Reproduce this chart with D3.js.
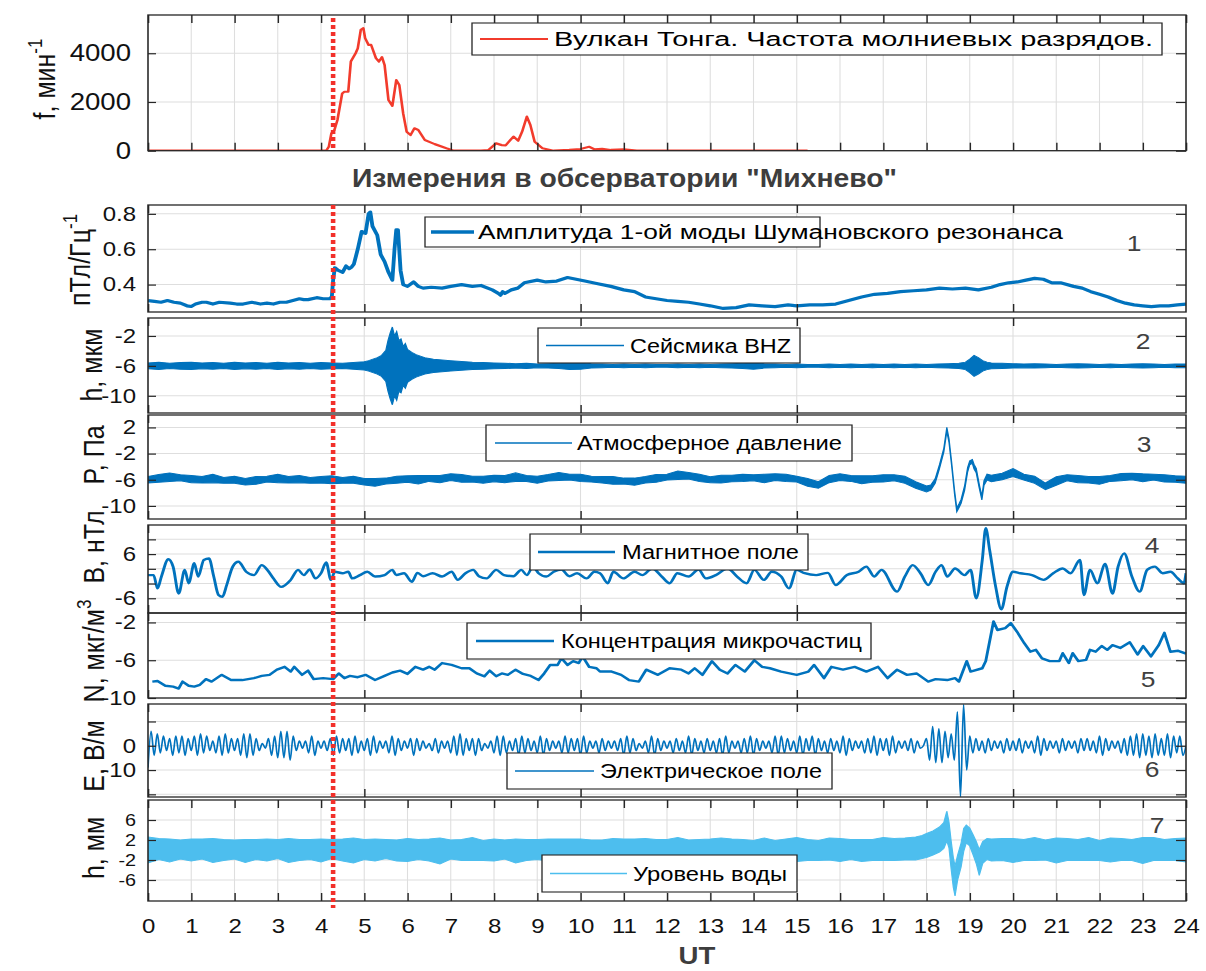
<!DOCTYPE html>
<html lang="ru">
<head>
<meta charset="utf-8">
<title>Тонга / Михнево</title>
<script src="https://cdn.jsdelivr.net/npm/d3@7"></script>
<style>
  body { margin: 0; background: #fff; }
  svg { display: block; }
  text { font-family: "Liberation Sans", Arial, sans-serif; }
</style>
</head>
<body>
<svg id="chart"></svg>
<script>
// ---------------- data ----------------

// hours, UT
const HOURS = [0, 1, 2, 3, 4, 5, 6, 7, 8, 9, 10, 11, 12, 13, 14, 15, 16, 17, 18, 19, 20, 21, 22, 23, 24];
const FIVE_HOURS = [0, 5, 10, 15, 20];
const ERUPTION_HOUR = 4.28;

// Tonga lightning rate, 1/min
const freqT = [0, 4.12, 4.18, 4.24, 4.31, 4.38, 4.49, 4.54, 4.63, 4.69, 4.8, 4.85, 4.92, 4.98, 5.02, 5.1,
    5.16, 5.27, 5.34, 5.41, 5.47, 5.56, 5.65, 5.74, 5.81, 5.9, 5.98, 6.07, 6.16, 6.25, 6.4, 6.63, 6.9, 7.07,
    7.7, 7.87, 8.05, 8.18, 8.27, 8.45, 8.56, 8.65, 8.76, 8.84, 8.94, 9.12, 9.38, 9.74, 10.0, 10.2, 10.32,
    10.5, 10.7, 11.0, 11.3, 15.25];
const freqV = [0, 0, 160, 710, 850, 1260, 2350, 2420, 2420, 3660, 4000, 4200, 4960, 5030, 4620, 4340,
    4340, 3800, 3660, 3840, 3520, 2080, 1840, 2900, 2700, 1530, 780, 640, 920, 850, 440, 270, 100, 0,
    0, 30, 300, 230, 220, 580, 410, 780, 1400, 1060, 370, 100, 0, 30, 70, 160, 60,
    80, 30, 60, 0, 0];

// 1 - Schumann resonance, first mode amplitude
const schumT = [0, 0.15, 0.3, 0.45, 0.6, 0.75, 0.9, 1.0, 1.1, 1.25,
    1.35, 1.5, 1.65, 1.9, 2.05, 2.2, 2.4, 2.6, 2.75, 2.9,
    3.05, 3.2, 3.35, 3.5, 3.6, 3.7, 3.9, 4.05, 4.2, 4.25,
    4.28, 4.32, 4.4, 4.5, 4.58, 4.65, 4.71, 4.76, 4.85, 4.94,
    5.03, 5.1, 5.14, 5.19, 5.3, 5.38, 5.47, 5.56, 5.65, 5.7,
    5.74, 5.78, 5.84, 5.9, 6.0, 6.14, 6.25, 6.36, 6.55, 6.8,
    7.0, 7.25, 7.5, 7.7, 7.96, 8.1, 8.15, 8.2, 8.25, 8.4,
    8.55, 8.7, 9.0, 9.2, 9.45, 9.7, 9.9, 10.1, 10.4, 10.7,
    11.0, 11.25, 11.5, 11.75, 12.0, 12.25, 12.5, 12.75, 13.0, 13.3,
    13.6, 13.9, 14.2, 14.5, 14.8, 15.0, 15.3, 15.6, 15.9, 16.2,
    16.5, 16.8, 17.1, 17.4, 17.7, 18.0, 18.3, 18.6, 18.9, 19.2,
    19.5, 19.7, 19.9, 20.1, 20.3, 20.5, 20.7, 20.9, 21.1, 21.4,
    21.6, 21.8, 22.0, 22.2, 22.4, 22.6, 22.8, 23.0, 23.2, 23.4,
    23.6, 23.8, 24.0];
const schumV = [0.31, 0.305, 0.30, 0.31, 0.30, 0.295, 0.28, 0.276, 0.29, 0.30,
    0.30, 0.29, 0.30, 0.295, 0.29, 0.29, 0.30, 0.29, 0.295, 0.29,
    0.30, 0.30, 0.31, 0.32, 0.315, 0.315, 0.326, 0.32, 0.32, 0.33,
    0.425, 0.495, 0.48, 0.47, 0.505, 0.49, 0.50, 0.516, 0.60, 0.70,
    0.69, 0.80, 0.81, 0.73, 0.68, 0.57, 0.53, 0.47, 0.425, 0.60,
    0.71, 0.71, 0.48, 0.40, 0.39, 0.415, 0.39, 0.38, 0.385, 0.38,
    0.39, 0.40, 0.39, 0.395, 0.37, 0.35, 0.34, 0.36, 0.35, 0.37,
    0.38, 0.41, 0.425, 0.415, 0.42, 0.44, 0.43, 0.42, 0.405, 0.39,
    0.37, 0.36, 0.33, 0.32, 0.31, 0.305, 0.30, 0.29, 0.28, 0.265,
    0.27, 0.285, 0.28, 0.275, 0.285, 0.28, 0.285, 0.285, 0.29, 0.31,
    0.33, 0.345, 0.35, 0.36, 0.365, 0.37, 0.38, 0.375, 0.38, 0.37,
    0.385, 0.40, 0.41, 0.415, 0.425, 0.435, 0.43, 0.41, 0.41, 0.39,
    0.38, 0.36, 0.345, 0.33, 0.31, 0.295, 0.285, 0.28, 0.275, 0.28,
    0.28, 0.285, 0.29];

// 2 - seismic BHZ: noise band around a flat level, half-width per time
const seisLevel = -6;
const seisT = [0, 0.25, 0.5, 0.75, 1, 1.25, 1.5, 1.75, 2, 2.25, 2.5, 2.75, 3, 3.25, 3.5, 3.75, 4, 4.25, 4.5, 4.75, 5,
    5.1, 5.2, 5.3, 5.4, 5.5,
    5.55, 5.6, 5.65, 5.7, 5.75, 5.8, 5.85, 5.9, 5.95, 6,
    6.1, 6.2, 6.3, 6.4, 6.6, 6.8, 7,
    7.25, 7.5, 7.75, 8, 8.25, 8.5, 8.75, 9, 9.25, 9.5, 9.75, 10,
    10.25, 10.5, 10.75, 11, 11.25, 11.5, 11.75, 12, 12.25, 12.5, 12.75, 13,
    13.25, 13.5, 13.75, 14, 14.25, 14.5, 14.75, 15, 15.25, 15.5, 15.75, 16,
    16.25, 16.5, 16.75, 17, 17.25, 17.5, 17.75, 18, 18.25, 18.5, 18.75,
    18.9, 19, 19.1, 19.2, 19.3, 19.4, 19.5, 19.75,
    20, 20.25, 20.5, 20.75, 21, 21.25, 21.5, 21.75, 22, 22.25, 22.5, 22.75, 23, 23.25, 23.5, 23.75, 24];
const seisSpread = [0.4, 0.5, 0.35, 0.45, 0.5, 0.4, 0.45, 0.35, 0.5, 0.4, 0.45, 0.35, 0.5, 0.4, 0.45, 0.35, 0.45, 0.4, 0.35, 0.45, 0.55,
    0.7, 0.9, 1.1, 1.4, 2.1,
    3.4, 4.4, 5.2, 4.0, 4.6, 3.4, 3.6, 2.6, 3.0, 2.2,
    1.8, 1.5, 1.3, 1.1, 0.9, 0.8, 0.7,
    0.6, 0.5, 0.45, 0.4, 0.35, 0.3, 0.35, 0.25, 0.3, 0.35, 0.5, 0.45,
    0.3, 0.25, 0.2, 0.25, 0.2, 0.25, 0.2, 0.2, 0.25, 0.2, 0.25, 0.2,
    0.25, 0.3, 0.35, 0.45, 0.3, 0.25, 0.2, 0.25, 0.2, 0.2, 0.25, 0.2,
    0.25, 0.2, 0.25, 0.2, 0.25, 0.2, 0.25, 0.2, 0.25, 0.3, 0.35,
    0.5, 0.9, 1.4, 1.1, 0.7, 0.5, 0.4, 0.35,
    0.3, 0.25, 0.3, 0.25, 0.2, 0.25, 0.3, 0.25, 0.2, 0.25, 0.2, 0.25, 0.3, 0.25, 0.2, 0.25, 0.25];

// 3 - atmospheric pressure: band centre and half-width
const presT = [0, 0.25, 0.5, 0.75, 1, 1.25, 1.5, 1.75,
    2, 2.25, 2.5, 2.75, 3, 3.25, 3.5, 3.75,
    4, 4.25, 4.5, 4.75, 5, 5.25, 5.5, 5.75,
    6, 6.25, 6.5, 6.75, 7, 7.25, 7.5, 7.75,
    8, 8.25, 8.5, 8.75, 9, 9.25, 9.5, 9.75,
    10, 10.25, 10.5, 10.75, 11, 11.25, 11.5, 11.75,
    12, 12.25, 12.5, 12.75, 13, 13.25, 13.5, 13.75,
    14, 14.25, 14.5, 14.75, 15, 15.25, 15.5, 15.75,
    16, 16.25, 16.5, 16.75, 17, 17.25, 17.5,
    17.75, 18.0, 18.1, 18.2, 18.3, 18.4, 18.47, 18.52, 18.58, 18.65, 18.7, 18.75,
    18.8, 18.88, 18.95, 19.0, 19.06, 19.1, 19.15, 19.22, 19.28, 19.33, 19.4, 19.5,
    19.75, 20, 20.25, 20.5, 20.75, 21, 21.25, 21.5, 21.75, 22, 22.25, 22.5, 22.75, 23, 23.25, 23.5, 23.75, 24];
const presMid = [-6.0, -5.8, -5.6, -5.7, -5.9, -6.0, -5.8, -6.1,
    -6.0, -6.3, -6.1, -5.9, -5.8, -6.0, -5.9, -6.1,
    -6.0, -6.0, -6.1, -6.0, -6.3, -6.4, -6.2, -6.0,
    -5.9, -6.0, -5.8, -5.9, -5.6, -5.8, -5.9, -6.0,
    -5.8, -5.9, -5.6, -5.8, -6.0, -5.7, -5.5, -5.6,
    -5.7, -5.9, -6.0, -6.1, -6.2, -6.3, -6.0, -5.8,
    -5.6, -5.3, -5.4, -5.7, -6.0, -5.9, -5.8, -5.7,
    -5.7, -5.8, -5.6, -5.7, -5.9, -6.4, -6.8, -5.9,
    -5.6, -5.8, -6.0, -5.9, -5.8, -5.7, -6.0,
    -6.8, -7.4, -7.2, -6.2, -4.0, -1.5, 1.7, 0.0, -3.5, -8.0, -10.6, -10.0,
    -9.3, -7.3, -4.5, -3.4, -3.2, -4.0, -4.6, -7.0, -8.8, -6.5, -5.6, -5.8,
    -5.5, -4.9, -5.6, -6.0, -7.0, -6.2, -5.7, -5.9, -6.0, -6.1, -5.8, -5.6, -5.5, -5.7, -5.6, -5.8, -5.9, -6.0];
const presSpread = [0.5, 0.6, 0.65, 0.45, 0.55, 0.5, 0.65, 0.45,
    0.55, 0.5, 0.6, 0.45, 0.65, 0.5, 0.55, 0.45,
    0.5, 0.6, 0.45, 0.55, 0.5, 0.6, 0.45, 0.55,
    0.5, 0.65, 0.45, 0.55, 0.5, 0.6, 0.45, 0.55,
    0.5, 0.55, 0.65, 0.45, 0.55, 0.5, 0.6, 0.45,
    0.55, 0.45, 0.5, 0.6, 0.45, 0.55, 0.5, 0.6,
    0.45, 0.65, 0.5, 0.55, 0.45, 0.6, 0.5, 0.55,
    0.45, 0.65, 0.5, 0.55, 0.45, 0.6, 0.5, 0.55,
    0.5, 0.45, 0.6, 0.5, 0.55, 0.45, 0.55,
    0.5, 0.45, 0.4, 0.35, 0.3, 0.3, 0.3, 0.3, 0.3, 0.3, 0.3, 0.3,
    0.3, 0.35, 0.35, 0.3, 0.3, 0.35, 0.35, 0.3, 0.3, 0.35, 0.45, 0.5,
    0.5, 0.6, 0.45, 0.55, 0.5, 0.65, 0.45, 0.55, 0.5, 0.6, 0.45, 0.55, 0.5, 0.6, 0.45, 0.55, 0.5, 0.55];

// 4 - magnetic field, nT
const magT = [0, 0.13, 0.22, 0.31, 0.47, 0.58, 0.71, 0.85, 0.94, 1.07,
    1.16, 1.29, 1.41, 1.52, 1.63, 1.72, 1.82, 1.96, 2.09, 2.27,
    2.45, 2.63, 2.76, 2.9, 3.08, 3.3, 3.47, 3.6, 3.74, 3.87,
    4.0, 4.12, 4.23, 4.32, 4.5, 4.63, 4.72, 4.9, 5.07, 5.25,
    5.47, 5.65, 5.74, 5.92, 6.1, 6.23, 6.36, 6.58, 6.8, 7.02,
    7.16, 7.34, 7.52, 7.65, 7.83, 8.05, 8.23, 8.45, 8.63, 8.76,
    8.9, 9.03, 9.21, 9.38, 9.56, 9.74, 9.92, 10.14, 10.32, 10.45,
    10.63, 10.76, 10.99, 11.25, 11.43, 11.66, 11.88, 12.06, 12.24, 12.5,
    12.73, 12.9, 13.13, 13.4, 13.62, 13.84, 14.02, 14.24, 14.42, 14.64,
    14.82, 15.0, 15.18, 15.45, 15.72, 15.9, 16.16, 16.43, 16.61, 16.79,
    16.96, 17.32, 17.5, 17.68, 17.86, 18.04, 18.21, 18.35, 18.48, 18.66,
    18.88, 19.02, 19.15, 19.29, 19.37, 19.46, 19.6, 19.73, 19.86, 20.0,
    20.17, 20.44, 20.71, 20.93, 21.15, 21.33, 21.55, 21.64, 21.78, 21.95,
    22.13, 22.3, 22.43, 22.57, 22.75, 22.93, 23.1, 23.28, 23.46, 23.64,
    23.81, 23.95, 24.0];
const magV = [0.3, 0.3, -3.3, -0.1, 4.6, 2.6, -4.7, 1.7, -1.9, 3.5,
    -0.1, 4.4, 4.8, -0.1, -5.1, -5.6, -2.4, 2.6, 3.9, 1.2,
    0.3, 3.0, 1.7, -0.6, -2.9, -1.0, 1.7, 0.3, 1.8, -0.6,
    0.8, 3.7, -1.0, 1.2, 0.8, 1.2, -0.6, 0.3, 1.2, -0.1,
    0.3, 1.7, 0.3, 0.8, -1.5, 0.9, 0, 0.8, -0.1, 1.2,
    -1.0, 0.8, 1.7, 0, -0.6, 1.7, 0.3, 0, 1.7, 0.3,
    2.6, 0.8, -0.1, 1.2, 1.8, 0, 0.8, -0.6, 1.2, 0.8,
    -1.9, 1.2, -0.6, 1.2, 0.3, 2.1, -0.1, -1.9, 0.8, -0.1,
    1.8, -0.6, 0.3, 2.1, -0.1, -1.9, 1.7, -1.0, 1.2, -0.1,
    -3.3, 1.7, 0.8, 0.3, 0.9, -2.4, 0.3, 1.2, 2.6, -0.1,
    1.7, -4.2, -0.1, 3.0, 0.8, -2.4, 1.2, 3.0, -0.1, 2.1,
    0.3, 1.7, -6.0, 4.4, 13.0, 7.1, -2.9, -9.0, -2.9, 1.2,
    0.8, 0.3, -1.0, 0.8, 2.1, 0.8, 4.4, -5.1, 1.7, -1.9,
    3.3, -4.7, 2.6, 6.2, -0.1, -4.2, 1.7, 2.6, 0.8, 1.2,
    -0.6, -1.9, 0.8];

// 5 - particle concentration
const partT = [0.1, 0.22, 0.4, 0.58, 0.71, 0.8, 0.94, 1.07, 1.2, 1.34,
    1.47, 1.7, 1.92, 2.18, 2.45, 2.63, 2.81, 2.98, 3.16, 3.3,
    3.38, 3.56, 3.7, 3.83, 4.05, 4.28, 4.41, 4.54, 4.67, 4.85,
    5.03, 5.25, 5.47, 5.65, 5.83, 6.0, 6.18, 6.36, 6.5, 6.63,
    6.8, 7.02, 7.25, 7.43, 7.6, 7.78, 7.9, 8.05, 8.18, 8.32,
    8.5, 8.67, 8.85, 9.03, 9.16, 9.3, 9.47, 9.56, 9.7, 9.83,
    9.96, 10.05, 10.2, 10.37, 10.45, 10.72, 10.94, 11.12, 11.35, 11.52,
    11.79, 12.06, 12.33, 12.5, 12.64, 12.82, 13.04, 13.22, 13.4, 13.58,
    13.8, 14.02, 14.2, 14.38, 14.64, 15.0, 15.27, 15.4, 15.63, 15.8,
    16.07, 16.34, 16.61, 16.88, 17.1, 17.32, 17.55, 17.77, 18.04, 18.21,
    18.48, 18.66, 18.75, 18.93, 19.02, 19.29, 19.37, 19.55, 19.64, 19.82,
    19.95, 20.09, 20.26, 20.4, 20.53, 20.67, 20.85, 21.07, 21.15, 21.29,
    21.38, 21.51, 21.69, 21.78, 21.91, 22.05, 22.18, 22.3, 22.48, 22.7,
    22.88, 23.01, 23.19, 23.37, 23.5, 23.64, 23.82, 24.0];
const partV = [-8.26, -8.2, -8.7, -8.8, -9.0, -8.26, -8.7, -8.8, -8.6, -8.0,
    -8.26, -7.55, -8.1, -8.1, -7.9, -7.66, -7.55, -7.0, -6.7, -7.2,
    -6.7, -7.55, -7.1, -8.0, -7.9, -8.0, -7.4, -7.9, -7.66, -7.8,
    -7.55, -8.1, -7.66, -7.3, -7.1, -7.45, -6.7, -7.0, -6.7, -7.0,
    -6.3, -6.5, -6.85, -6.85, -7.4, -7.7, -7.1, -7.7, -7.4, -7.55,
    -7.0, -7.45, -7.66, -8.1, -7.4, -6.5, -6.5, -5.8, -6.5, -6.1,
    -6.3, -5.6, -6.7, -6.85, -7.2, -7.2, -7.55, -8.1, -8.26, -7.0,
    -7.55, -6.85, -7.0, -7.4, -6.85, -7.55, -6.1, -7.0, -7.4, -6.5,
    -7.2, -6.0, -6.7, -6.85, -7.2, -7.55, -7.2, -6.5, -7.9, -6.7,
    -7.0, -6.7, -7.2, -6.7, -7.9, -7.0, -7.55, -7.4, -8.26, -8.0,
    -8.1, -7.9, -8.26, -6.1, -7.2, -6.85, -6.1, -1.9, -2.8, -2.6,
    -2.07, -2.96, -4.2, -5.1, -4.9, -5.8, -6.1, -6.1, -5.26, -6.3,
    -5.26, -6.1, -5.96, -4.9, -5.1, -4.5, -4.9, -4.4, -4.7, -4.1,
    -5.4, -4.5, -5.6, -4.4, -3.1, -5.1, -5.0, -5.3];

// 6 - electric field, successive peaks and troughs, 14 per hour
const eStep = 1 / 14;
const eField = [
    -9, 6, -4, 5, -3, 4, -2, 3, -4, 4, -3, 4, -4, 3,
    -2, 4, -4, 5, -3, 4, -2, 2, -3, 4, -4, 5, -3, 3,
    -2, 3, -4, 5, -5, 5, -4, 3, -2, 1, -1, 3, -4, 4,
    -5, 6, -5, 6, -6, 4, -2, 2, -1, 2, -3, 4, -4, 2,
    -1, 2, -2, 3, -4, 4, -3, 3, -2, 3, -4, 4, -3, 2,
    -2, 3, -4, 4, -3, 2, -1, 2, -3, 4, -4, 3, -2, 2,
    -1, 3, -4, 3, -2, 2, -1, 1, -2, 3, -3, 2, -1, 2,
    -3, 4, -4, 5, -4, 3, -2, 3, -4, 3, -2, 1, -1, 2,
    -3, 4, -4, 4, -3, 2, -2, 3, -4, 4, -3, 3, -2, 2,
    -3, 4, -4, 3, -2, 2, -1, 2, -3, 4, -3, 3, -2, 3,
    -4, 4, -3, 2, -1, 2, -3, 3, -2, 2, -1, 2, -2, 3,
    -4, 4, -3, 3, -2, 1, -1, 2, -3, 4, -4, 3, -2, 2,
    -1, 2, -3, 3, -2, 2, -3, 4, -4, 3, -2, 2, -3, 3,
    -2, 2, -3, 3, -4, 4, -3, 2, -1, 2, -3, 3, -3, 4,
    -4, 3, -2, 2, -1, 2, -3, 4, -4, 4, -3, 3, -2, 2,
    -3, 4, -4, 3, -2, 4, -4, 3, -2, 2, -3, 3, -2, 2,
    -3, 4, -4, 3, -2, 2, -1, 2, -3, 3, -3, 4, -4, 3,
    -2, 3, -4, 4, -3, 2, -1, 2, -2, 3, -3, 2, -1, 0,
    3, -6, 8, -7, 7, -7, 6, -5, 5, -6, 14, -21, 17, -10,
    4, -3, 3, -2, 2, -3, 3, -2, 2, -1, 2, -3, 3, -2,
    2, -2, 3, -3, 2, -1, 2, -3, 4, -4, 3, -2, 2, -1,
    2, -3, 3, -2, 2, -1, 2, -3, 3, -2, 3, -2, 2, -3,
    4, -4, 3, -2, 2, -1, 2, -3, 3, -4, 4, -4, 5, -5,
    5, -4, 4, -5, 5, -4, 3, -4, 5, -5, 4, -3, 4, -4,
    0];

// 7 - water level: band centre and half-width, mm
const waterT = [0, 0.25, 0.5, 0.75, 1, 1.25, 1.5, 1.75,
    2, 2.25, 2.5, 2.75, 3, 3.25, 3.5, 3.75,
    4, 4.25, 4.5, 4.75, 5, 5.25, 5.5, 5.75,
    6, 6.25, 6.5, 6.75, 7, 7.25, 7.5, 7.75,
    8, 8.25, 8.5, 8.75, 9, 9.25, 9.5, 9.75,
    10, 10.25, 10.5, 10.75, 11, 11.25, 11.5, 11.75,
    12, 12.25, 12.5, 12.75, 13, 13.25, 13.5, 13.75,
    14, 14.25, 14.5, 14.75, 15, 15.25, 15.5, 15.75,
    16, 16.25, 16.5, 16.75, 17, 17.25, 17.5, 17.75,
    17.9, 18.0, 18.15, 18.3, 18.4, 18.47, 18.52, 18.57, 18.62, 18.66, 18.72,
    18.8, 18.86, 18.92, 19.0, 19.08, 19.15, 19.22, 19.3, 19.4, 19.5,
    19.75, 20, 20.25, 20.5, 20.75, 21, 21.25, 21.5, 21.75, 22, 22.25, 22.5, 22.75, 23, 23.25, 23.5, 23.75, 24];
const waterMid = [0.0, 0.2, -0.1, 0.1, 0.0, 0.2, -0.1, 0.0,
    0.1, -0.2, 0.1, 0.0, 0.2, -0.1, 0.0, 0.1,
    -0.1, 0.2, 0.0, -0.1, 0.1, 0.0, 0.2, -0.1,
    0.0, 0.1, 0.0, -0.2, 0.1, 0.0, 0.2, -0.1,
    0.0, 0.1, -0.2, 0.0, 0.1, 0.0, -0.1, 0.2,
    0.0, 0.1, -0.1, 0.0, 0.2, 0.0, -0.1, 0.1,
    0.0, 0.2, 0.0, -0.1, 0.1, 0.0, 0.2, -0.1,
    0.0, 0.1, -0.2, 0.0, 0.1, 0.0, -0.1, 0.2,
    0.0, 0.1, -0.1, 0.0, 0.2, 0.1, 0.2, 0.3,
    0.6, 0.9, 1.4, 2.1, 2.9, 4.8, 3.0, -1.0, -4.5, -6.2, -3.5,
    -1.0, 2.0, 3.2, 2.6, 1.0, -0.5, -2.5, -0.5, 0.2, 0.0,
    0.1, -0.1, 0.0, 0.2, 0.0, -0.1, 0.1, 0.0, 0.2, -0.1, 0.0, 0.1, 0.0, -0.1, 0.2, 0.0, 0.1, 0.0];
const waterSpread = [2.6, 2.1, 2.3, 1.9, 2.2, 2.0, 2.4, 2.1,
    1.9, 2.3, 2.0, 2.2, 1.9, 2.4, 2.1, 2.0,
    2.3, 1.9, 2.2, 2.5, 2.0, 2.2, 1.9, 2.1,
    2.3, 2.0, 2.2, 2.6, 1.9, 2.1, 2.3, 2.0,
    2.2, 1.9, 2.4, 2.1, 2.0, 2.2, 2.3, 2.0,
    2.2, 1.9, 2.1, 2.3, 2.0, 2.2, 2.4, 2.0,
    2.1, 2.3, 2.0, 2.2, 2.1, 2.4, 2.0, 2.2,
    1.9, 2.3, 2.1, 2.2, 2.4, 2.1, 2.0, 2.2,
    2.3, 2.0, 2.2, 2.1, 2.3, 2.2, 2.2, 2.3,
    2.3, 2.4, 2.4, 2.5, 2.6, 3.0, 2.6, 2.8, 3.0, 3.0, 2.5,
    2.4, 2.3, 1.8, 1.8, 2.0, 2.2, 2.6, 2.2, 2.1, 2.2,
    2.2, 2.4, 2.1, 2.3, 2.0, 2.5, 2.2, 2.1, 2.3, 2.0, 2.4, 2.2, 2.1, 2.6, 2.3, 2.1, 2.2, 2.4];

// y ticks of each panel, and which of them carry a label
const freqTicks = [0, 2000, 4000];
const schumTicks = [0.4, 0.6, 0.8];
const seisTicks = [-10, -6, -2];
const presTicks = [-10, -6, -2, 2];
const magTicks = [-6, -2, 2, 6, 10];
const magLabels = [-6, 6];
const partTicks = [-10, -6, -2];
const eTicks = [-20, -10, 0, 10];
const eLabels = [-10, 0];
const waterTicks = [-6, -2, 2, 6];

const legendNames = [
    'Вулкан Тонга. Частота молниевых разрядов.',
    'Амплитуда 1-ой моды Шумановского резонанса',
    'Сейсмика BHZ',
    'Атмосферное давление',
    'Магнитное поле',
    'Концентрация микрочастиц',
    'Электрическое поле',
    'Уровень воды'
];
const axisTitles = [
    ['f, мин', '-1'], ['пТл/Гц', '-1'], ['h, мкм', ''], ['P, Па', ''],
    ['B, нТл', ''], ['N, мкг/м', '3'], ['E, В/м', ''], ['h, мм', '']
];
const chartTitle = 'Измерения в обсерватории "Михнево"';
const xTitle = 'UT';

// ---------------- drawing ----------------

// the source picture is stretched sideways, so draw in a narrower box and let the viewBox widen it
const SX = 1.2;
const sx = v => v / SX;

const INK = '#262626';
const GRID = '#dedede';
const BLUE = '#0072bd';
const SKY = '#4dbeee';
const RED = '#f23b2c';

let svg = d3.select('#chart')
    .attr('width', 1206)
    .attr('height', 971)
    .attr('viewBox', `0 0 ${1206 / SX} 971`)
    .attr('preserveAspectRatio', 'none');

let x = d3.scaleLinear().domain([0, 24]).range([sx(148), sx(1186)]);

function styleAxis(sel, size) {
    sel.select('.domain').remove();
    sel.selectAll('line').attr('stroke', INK).attr('stroke-width', 1.2);
    sel.selectAll('text').attr('fill', '#111').attr('font-size', size || 20);
}

function drawPanel(p) {
    let y = d3.scaleLinear().domain(p.domain).range([p.bottom, p.top]);
    let g = svg.append('g');
    let shown = p.shown || p.yTicks;

    g.append('clipPath').attr('id', 'clip-' + p.name)
        .append('rect')
        .attr('x', x(0)).attr('y', p.top)
        .attr('width', x(24) - x(0)).attr('height', p.bottom - p.top);

    g.append('g').selectAll('line')
        .data(p.xGrid)
        .enter()
        .append('line')
        .attr('x1', d => x(d)).attr('x2', d => x(d))
        .attr('y1', p.top).attr('y2', p.bottom)
        .attr('stroke', GRID).attr('stroke-width', 0.9);
    g.append('g').selectAll('line')
        .data(p.yTicks)
        .enter()
        .append('line')
        .attr('x1', x(0)).attr('x2', x(24))
        .attr('y1', d => y(d)).attr('y2', d => y(d))
        .attr('stroke', GRID).attr('stroke-width', 1);

    let plot = g.append('g').attr('clip-path', `url(#clip-${p.name})`);

    // ticks on all four sides, pointing inwards
    g.append('g')
        .attr('transform', `translate(${x(0)},0)`)
        .call(d3.axisLeft(y).tickValues(p.yTicks).tickSize(-sx(8)).tickPadding(sx(p.pad || 12))
            .tickFormat(d => shown.includes(d) ? String(d) : ''))
        .call(styleAxis, p.font);
    g.append('g')
        .attr('transform', `translate(${x(24)},0)`)
        .call(d3.axisRight(y).tickValues(p.yTicks).tickSize(-sx(10)).tickFormat(() => ''))
        .call(styleAxis);
    g.append('g')
        .attr('transform', `translate(0,${p.top})`)
        .call(d3.axisTop(x).tickValues(p.xTicks).tickSize(-8).tickFormat(() => ''))
        .call(styleAxis);
    g.append('g')
        .attr('transform', `translate(0,${p.bottom})`)
        .call(d3.axisBottom(x).tickValues(p.xTicks).tickSize(-8).tickPadding(18)
            .tickFormat(d => p.xLabels ? String(d) : ''))
        .call(styleAxis, 20);

    g.append('rect')
        .attr('x', x(0)).attr('y', p.top)
        .attr('width', x(24) - x(0)).attr('height', p.bottom - p.top)
        .attr('fill', 'none').attr('stroke', INK).attr('stroke-width', 1.3);

    return { y, plot };
}

function drawLine(panel, T, V, color, width, curve) {
    panel.plot.append('path')
        .datum(d3.zip(T, V))
        .attr('fill', 'none')
        .attr('stroke', color)
        .attr('stroke-width', width)
        .attr('stroke-linejoin', 'round')
        .attr('d', d3.line()
            .curve(curve || d3.curveLinear)
            .x(d => x(d[0]))
            .y(d => panel.y(d[1])));
}

function drawBand(panel, T, mid, spread, color) {
    panel.plot.append('path')
        .datum(d3.zip(T, mid, spread))
        .attr('fill', color)
        .attr('stroke', color)
        .attr('stroke-width', 1)
        .attr('d', d3.area()
            .x(d => x(d[0]))
            .y0(d => panel.y(d[1] - d[2]))
            .y1(d => panel.y(d[1] + d[2])));
}

const HOURLY_GRID = HOURS.slice(1, 24);
const FIVE_GRID = FIVE_HOURS.slice(1);

let pTop = drawPanel({ name: 'f', top: 15, bottom: 150.7, domain: [0, 5570], yTicks: freqTicks,
    xTicks: HOURS, xGrid: HOURLY_GRID, font: 23, pad: 17 });
let p1 = drawPanel({ name: 'p1', top: 205, bottom: 312, domain: [0.245, 0.85], yTicks: schumTicks,
    xTicks: FIVE_HOURS, xGrid: FIVE_GRID });
let p2 = drawPanel({ name: 'p2', top: 318, bottom: 413, domain: [-12.3, 0.4], yTicks: seisTicks,
    xTicks: FIVE_HOURS, xGrid: FIVE_GRID });
let p3 = drawPanel({ name: 'p3', top: 415, bottom: 519, domain: [-12, 3.9], yTicks: presTicks,
    xTicks: FIVE_HOURS, xGrid: FIVE_GRID });
let p4 = drawPanel({ name: 'p4', top: 525, bottom: 613, domain: [-10, 13.9], yTicks: magTicks, shown: magLabels,
    xTicks: FIVE_HOURS, xGrid: FIVE_GRID });
let p5 = drawPanel({ name: 'p5', top: 613, bottom: 698, domain: [-10, -1], yTicks: partTicks,
    xTicks: FIVE_HOURS, xGrid: FIVE_GRID });
let p6 = drawPanel({ name: 'p6', top: 704, bottom: 797, domain: [-21.1, 17.2], yTicks: eTicks, shown: eLabels,
    xTicks: FIVE_HOURS, xGrid: FIVE_GRID });
let p7 = drawPanel({ name: 'p7', top: 800, bottom: 901, domain: [-10.2, 10], yTicks: waterTicks,
    xTicks: HOURS, xGrid: HOURLY_GRID, xLabels: true, font: 16.5 });

drawLine(pTop, freqT, freqV, RED, 2.2);
drawLine(p1, schumT, schumV, BLUE, 3.2);
drawBand(p2, seisT, seisT.map(() => seisLevel), seisSpread, BLUE);
drawBand(p3, presT, presMid, presSpread, BLUE);
drawLine(p4, magT, magV, BLUE, 2.4, d3.curveMonotoneX);
drawLine(p5, partT, partV, BLUE, 2.4);
drawLine(p6, eField.map((v, i) => i * eStep), eField, BLUE, 1.4, d3.curveMonotoneX);
drawBand(p7, waterT, waterMid, waterSpread, SKY);

// eruption marker
[[18, 150.7], [205, 908]].forEach(([y0, y1]) => {
    svg.append('line')
        .attr('x1', x(ERUPTION_HOUR)).attr('x2', x(ERUPTION_HOUR))
        .attr('y1', y0).attr('y2', y1)
        .attr('stroke', '#f2302a')
        .attr('stroke-width', 3.8)
        .attr('stroke-dasharray', '4,3');
});

// legends: box, sample line, label (screen px)
const legendBoxes = [
    { x0: 472, x1: 1162, y0: 23, y1: 55, l0: 480, l1: 548, tx: 554, tw: 599, color: RED, width: 2.2 },
    { x0: 425, x1: 820, y0: 217, y1: 247, l0: 431, l1: 474, tx: 478, tw: 585, color: BLUE, width: 3.4 },
    { x0: 538, x1: 800, y0: 328, y1: 363, l0: 546, l1: 624, tx: 630, tw: 161, color: BLUE, width: 1.5 },
    { x0: 486, x1: 852, y0: 425, y1: 461, l0: 495, l1: 572, tx: 577, tw: 265, color: BLUE, width: 1.5 },
    { x0: 530, x1: 808, y0: 534, y1: 570, l0: 538, l1: 615, tx: 622, tw: 177, color: BLUE, width: 2.4 },
    { x0: 467, x1: 871, y0: 623, y1: 659, l0: 476, l1: 554, tx: 561, tw: 301, color: BLUE, width: 2.4 },
    { x0: 507, x1: 832, y0: 753, y1: 789, l0: 515, l1: 594, tx: 600, tw: 222, color: BLUE, width: 1.5 },
    { x0: 542, x1: 797, y0: 855, y1: 892, l0: 550, l1: 627, tx: 633, tw: 154, color: SKY, width: 1.5 }
];

legendBoxes.forEach((b, i) => {
    let cy = (b.y0 + b.y1) / 2;
    svg.append('rect')
        .attr('x', sx(b.x0)).attr('y', b.y0)
        .attr('width', sx(b.x1 - b.x0)).attr('height', b.y1 - b.y0)
        .attr('fill', '#fff').attr('stroke', INK).attr('stroke-width', 1.1);
    svg.append('line')
        .attr('x1', sx(b.l0)).attr('x2', sx(b.l1))
        .attr('y1', cy).attr('y2', cy)
        .attr('stroke', b.color).attr('stroke-width', b.width);
    svg.append('text')
        .attr('x', sx(b.tx)).attr('y', cy + 7.5)
        .attr('font-size', 21)
        .attr('fill', '#000')
        .attr('textLength', sx(b.tw))
        .attr('lengthAdjust', 'spacingAndGlyphs')
        .text(legendNames[i]);
});

// panel numbers
const numberSpots = [[1134, 243], [1143, 341], [1144, 444], [1152, 545], [1148, 679], [1152, 769], [1157, 825]];
numberSpots.forEach(([nx, ny], i) => {
    svg.append('text')
        .attr('x', sx(nx)).attr('y', ny + 8)
        .attr('text-anchor', 'middle')
        .attr('font-size', 22)
        .attr('fill', '#404040')
        .text(String(i + 1));
});

// rotated y titles
const titleSpots = [[55, 79], [90, 260], [102, 365], [104, 455], [104, 547], [104, 651], [104, 756], [104, 848]];
axisTitles.forEach(([main, sup], i) => {
    let [tx, ty] = titleSpots[i];
    let t = svg.append('text')
        .attr('transform', `translate(${sx(tx)},${ty}) rotate(-90)`)
        .attr('text-anchor', 'middle')
        .attr('font-size', 25)
        .attr('fill', '#111');
    t.append('tspan').text(main);
    if (sup) t.append('tspan').attr('dy', -11).attr('font-size', 17).text(sup);
});

svg.append('text')
    .attr('x', sx(352)).attr('y', 187)
    .attr('font-size', 25)
    .attr('font-weight', 'bold')
    .attr('fill', '#3d3d3d')
    .attr('textLength', sx(545))
    .attr('lengthAdjust', 'spacingAndGlyphs')
    .text(chartTitle);

svg.append('text')
    .attr('x', sx(697)).attr('y', 964)
    .attr('text-anchor', 'middle')
    .attr('font-size', 23)
    .attr('font-weight', 'bold')
    .attr('fill', '#3d3d3d')
    .text(xTitle);
</script>
</body>
</html>
